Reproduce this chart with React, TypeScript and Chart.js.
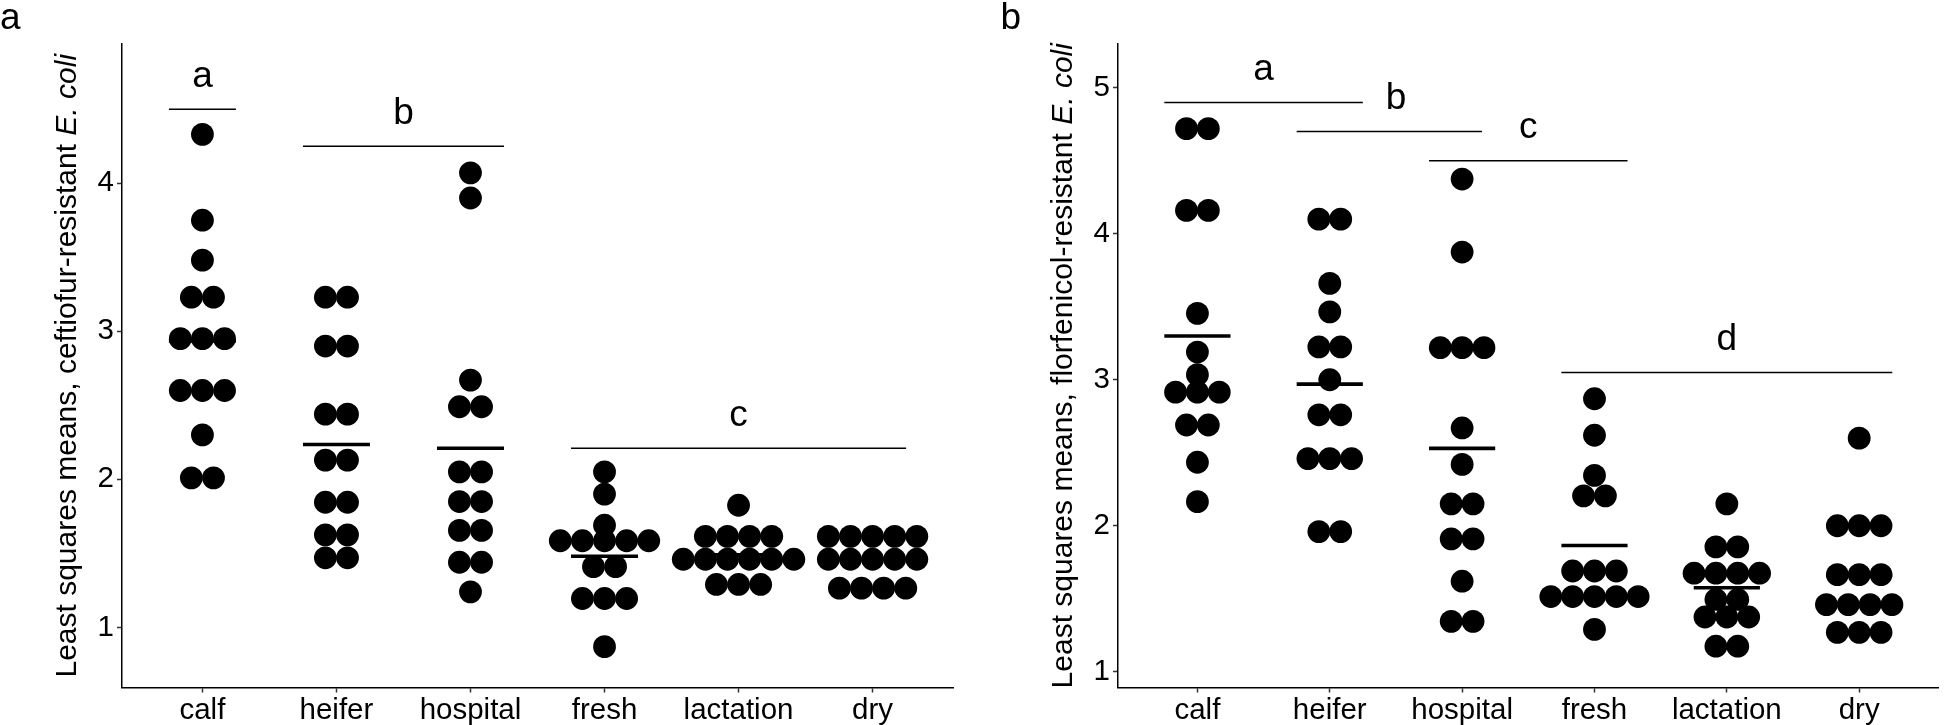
import React, { useEffect, useRef } from 'react';
import { Chart, registerables } from 'chart.js';

Chart.register(...registerables);

// ---------- data ----------
const categories = ['calf', 'heifer', 'hospital', 'fresh', 'lactation', 'dry'];

// Panel a: ceftiofur-resistant E. coli (least squares means, one value per dot)
const ceftCalf = [4.33, 3.75, 3.48, 3.23, 3.23, 2.95, 2.95, 2.95, 2.6, 2.6, 2.6, 2.3, 2.01, 2.01];
const ceftHeifer = [3.23, 3.23, 2.9, 2.9, 2.44, 2.44, 2.13, 2.13, 1.845, 1.845, 1.625, 1.625, 1.47, 1.47];
const ceftHospital = [4.07, 3.9, 2.67, 2.49, 2.49, 2.05, 2.05, 1.85, 1.85, 1.655, 1.655, 1.44, 1.44, 1.24];
const ceftFresh = [2.05, 1.9, 1.69, 1.585, 1.585, 1.585, 1.585, 1.585, 1.41, 1.41, 1.195, 1.195, 1.195, 0.87];
const ceftLactation = [1.825, 1.615, 1.615, 1.615, 1.615, 1.46, 1.46, 1.46, 1.46, 1.46, 1.46, 1.29, 1.29, 1.29];
const ceftDry = [1.615, 1.615, 1.615, 1.615, 1.615, 1.46, 1.46, 1.46, 1.46, 1.46, 1.265, 1.265, 1.265, 1.265];
const ceftMeans = [2.935, 2.235, 2.21, 1.48, 1.49, 1.46];
const ceftLetters = ['a', 'b', 'c'];
const ceftLetterX = [1, 2.5, 5];
const ceftBarStart = [0.75, 1.75, 3.75];
const ceftBarEnd = [1.25, 3.25, 6.25];
const ceftBarY = [4.5, 4.25, 2.21];
const ceftYTicks = [1, 2, 3, 4];

// Panel b: florfenicol-resistant E. coli
const florCalf = [4.72, 4.72, 4.16, 4.16, 3.455, 3.19, 3.035, 2.915, 2.915, 2.915, 2.69, 2.69, 2.435, 2.165];
const florHeifer = [4.1, 4.1, 3.66, 3.465, 3.225, 3.225, 3.0, 2.76, 2.76, 2.46, 2.46, 2.46, 1.96, 1.96];
const florHospital = [4.375, 3.875, 3.22, 3.22, 3.22, 2.67, 2.42, 2.15, 2.15, 1.91, 1.91, 1.62, 1.345, 1.345];
const florFresh = [2.87, 2.62, 2.345, 2.205, 2.205, 1.69, 1.69, 1.69, 1.515, 1.515, 1.515, 1.515, 1.515, 1.29];
const florLactation = [2.15, 1.855, 1.855, 1.675, 1.675, 1.675, 1.675, 1.495, 1.495, 1.375, 1.375, 1.375, 1.175, 1.175];
const florDry = [2.6, 2.0, 2.0, 2.0, 1.665, 1.665, 1.665, 1.46, 1.46, 1.46, 1.46, 1.27, 1.27, 1.27];
const florMeans = [3.3, 2.97, 2.53, 1.865, 1.575, 1.66];
const florLetters = ['a', 'b', 'c', 'd'];
const florLetterX = [1.5, 2.5, 3.5, 5];
const florBarStart = [0.75, 1.75, 2.75, 3.75];
const florBarEnd = [2.25, 3.15, 4.25, 6.25];
const florBarY = [4.9, 4.7, 4.5, 3.05];
const florYTicks = [1, 2, 3, 4, 5];

// ---------- styling ----------
const FONT = '"Liberation Sans", Arial, Helvetica, sans-serif';
const DOT_RADIUS = 11.4;
const DOT_STEP = 0.165; // horizontal spacing of stacked dots, in category units
const MEAN_HALF = 0.25;
const TICK_FONT = 29.5;

type Panel = {
  label: string;
  titleMain: string;
  titleItalic: string;
  groups: number[][];
  means: number[];
  letters: string[];
  letterX: number[];
  barStart: number[];
  barEnd: number[];
  barY: number[];
  yTicks: number[];
  yMin: number;
  yMax: number;
  canvasLeft: number;
  yAxisWidth: number;
  padRight: number;
  labelX: number;
};

const panels: Panel[] = [
  {
    label: 'a',
    titleMain: 'Least squares means, ceftiofur-resistant ',
    titleItalic: 'E. coli',
    groups: [ceftCalf, ceftHeifer, ceftHospital, ceftFresh, ceftLactation, ceftDry],
    means: ceftMeans,
    letters: ceftLetters,
    letterX: ceftLetterX,
    barStart: ceftBarStart,
    barEnd: ceftBarEnd,
    barY: ceftBarY,
    yTicks: ceftYTicks,
    yMin: 0.594,
    yMax: 4.94,
    canvasLeft: 0,
    yAxisWidth: 122,
    padRight: 22,
    labelX: 0,
  },
  {
    label: 'b',
    titleMain: 'Least squares means, florfenicol-resistant ',
    titleItalic: 'E. coli',
    groups: [florCalf, florHeifer, florHospital, florFresh, florLactation, florDry],
    means: florMeans,
    letters: florLetters,
    letterX: florLetterX,
    barStart: florBarStart,
    barEnd: florBarEnd,
    barY: florBarY,
    yTicks: florYTicks,
    yMin: 0.892,
    yMax: 5.3,
    canvasLeft: 975,
    yAxisWidth: 143,
    padRight: 1,
    labelX: 25.5,
  },
];

function swarm(values: number[], cat: number) {
  const counts = new Map<number, number>();
  values.forEach((v) => counts.set(v, (counts.get(v) || 0) + 1));
  const pts: { x: number; y: number }[] = [];
  counts.forEach((n, v) => {
    for (let k = 0; k < n; k++) pts.push({ x: cat + (k - (n - 1) / 2) * DOT_STEP, y: v });
  });
  return pts;
}

function buildConfig(p: Panel): any {
  const points = p.groups.flatMap((g, i) => swarm(g, i + 1));
  const datasets: any[] = [
    {
      type: 'scatter',
      data: points,
      backgroundColor: '#000',
      borderWidth: 0,
      pointRadius: DOT_RADIUS,
      pointHoverRadius: DOT_RADIUS,
      order: 2,
    },
  ];
  p.means.forEach((m, i) => {
    datasets.push({
      type: 'line',
      data: [
        { x: i + 1 - MEAN_HALF, y: m },
        { x: i + 1 + MEAN_HALF, y: m },
      ],
      borderColor: '#000',
      borderWidth: 3.6,
      pointRadius: 0,
      fill: false,
      order: 1,
    });
  });
  p.barY.forEach((y, i) => {
    datasets.push({
      type: 'line',
      data: [
        { x: p.barStart[i], y },
        { x: p.barEnd[i], y },
      ],
      borderColor: '#000',
      borderWidth: 1.5,
      pointRadius: 0,
      fill: false,
      order: 1,
    });
  });

  const annotatePlugin = {
    id: 'annotate' + p.label,
    afterDraw(chart: any) {
      const ctx = chart.ctx as CanvasRenderingContext2D;
      const xs = chart.scales.x;
      const ys = chart.scales.y;
      const area = chart.chartArea;
      ctx.save();
      ctx.fillStyle = '#000';
      // significance letters
      ctx.font = `37px ${FONT}`;
      ctx.textAlign = 'center';
      ctx.textBaseline = 'alphabetic';
      p.letters.forEach((l, i) => {
        ctx.fillText(l, xs.getPixelForValue(p.letterX[i]), ys.getPixelForValue(p.barY[i]) - 22.5);
      });
      // panel label
      ctx.textAlign = 'left';
      ctx.fillText(p.label, p.labelX, 28.5);
      // y-axis title with italic part
      const cx = area.left - 46;
      const cy = (area.top + area.bottom) / 2;
      ctx.translate(cx, cy);
      ctx.rotate(-Math.PI / 2);
      const normal = `30px ${FONT}`;
      const italic = `italic 30px ${FONT}`;
      ctx.font = normal;
      const w1 = ctx.measureText(p.titleMain).width;
      ctx.font = italic;
      const w2 = ctx.measureText(p.titleItalic).width;
      const start = -(w1 + w2) / 2;
      ctx.textAlign = 'left';
      ctx.font = normal;
      ctx.fillText(p.titleMain, start, 0);
      ctx.font = italic;
      ctx.fillText(p.titleItalic, start + w1, 0);
      ctx.restore();
    },
  };

  return {
    type: 'scatter',
    data: { datasets },
    options: {
      animation: false,
      responsive: false,
      events: [],
      layout: { padding: { top: 44, right: p.padRight, left: 0, bottom: 0 } },
      plugins: { legend: { display: false }, tooltip: { enabled: false }, title: { display: false } },
      scales: {
        x: {
          type: 'linear',
          min: 0.4,
          max: 6.6,
          afterBuildTicks: (s: any) => {
            s.ticks = categories.map((_, i) => ({ value: i + 1 }));
          },
          afterFit: (s: any) => {
            s.height = 37.5;
          },
          grid: { display: true, drawOnChartArea: false, drawTicks: true, tickLength: 5, tickColor: '#333', tickWidth: 1.5 },
          border: { display: true, color: '#000', width: 1.5 },
          ticks: {
            color: '#000',
            font: { family: FONT, size: TICK_FONT },
            padding: 1,
            autoSkip: false,
            maxRotation: 0,
            minRotation: 0,
            callback: (v: any) => categories[Math.round(Number(v)) - 1] ?? '',
          },
        },
        y: {
          type: 'linear',
          min: p.yMin,
          max: p.yMax,
          afterBuildTicks: (s: any) => {
            s.ticks = p.yTicks.map((v) => ({ value: v }));
          },
          afterFit: (s: any) => {
            s.width = p.yAxisWidth;
          },
          grid: { display: true, drawOnChartArea: false, drawTicks: true, tickLength: 5, tickColor: '#333', tickWidth: 1.5 },
          border: { display: true, color: '#000', width: 1.5 },
          ticks: {
            color: '#000',
            font: { family: FONT, size: TICK_FONT },
            padding: 3,
            callback: (v: any) => String(v),
          },
        },
      },
    },
    plugins: [annotatePlugin],
  };
}

function PanelChart({ panel }: { panel: Panel }) {
  const ref = useRef<HTMLCanvasElement | null>(null);
  useEffect(() => {
    if (!ref.current) return;
    const chart = new Chart(ref.current, buildConfig(panel));
    return () => chart.destroy();
  }, [panel]);
  return (
    <canvas
      ref={ref}
      width={975}
      height={725}
      style={{ position: 'absolute', left: panel.canvasLeft, top: 0, width: 975, height: 725, display: 'block' }}
    />
  );
}

export default function App() {
  return (
    <div style={{ position: 'absolute', left: 0, top: 0, width: 1950, height: 725, background: '#fff', overflow: 'hidden' }}>
      {panels.map((p) => (
        <PanelChart key={p.label} panel={p} />
      ))}
    </div>
  );
}
